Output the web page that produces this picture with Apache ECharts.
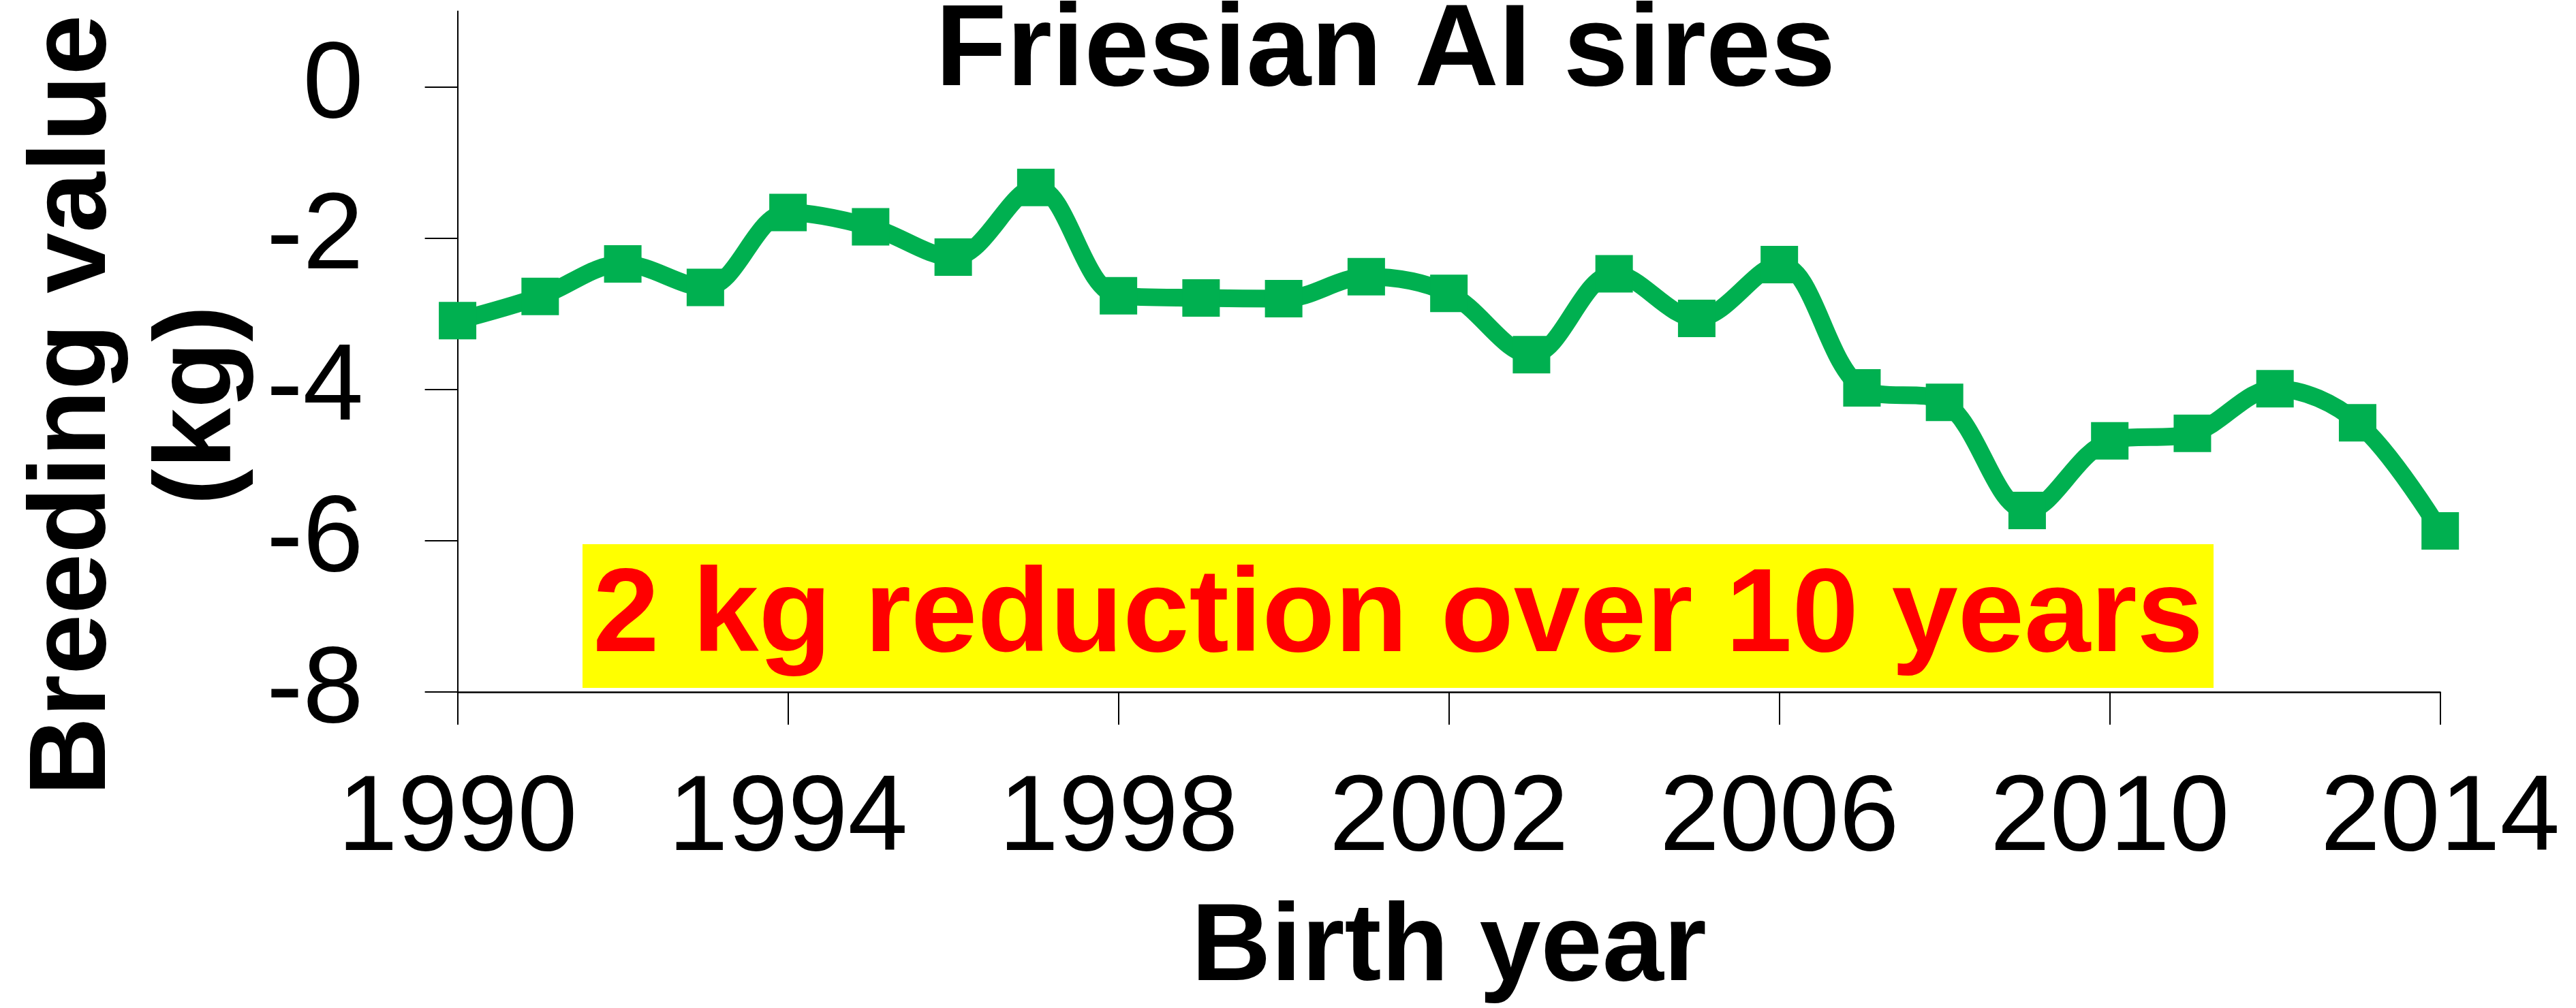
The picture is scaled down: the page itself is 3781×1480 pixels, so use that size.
<!DOCTYPE html>
<html>
<head>
<meta charset="utf-8">
<script src="https://cdn.jsdelivr.net/npm/echarts@6/dist/echarts.min.js"></script>
<style>
  html, body { margin: 0; padding: 0; background: #fff; }
  #chart { width: 3781px; height: 1480px; }
</style>
</head>
<body>
<div id="chart"></div>
<script>
// ---- data ----
var years = [1990, 1991, 1992, 1993, 1994, 1995, 1996, 1997, 1998, 1999, 2000, 2001, 2002,
             2003, 2004, 2005, 2006, 2007, 2008, 2009, 2010, 2011, 2012, 2013, 2014];
var breedingValues = [-3.09, -2.77, -2.34, -2.65, -1.66, -1.85, -2.25, -1.33, -2.76, -2.79, -2.80, -2.51, -2.73,
                      -3.54, -2.47, -3.06, -2.35, -3.98, -4.17, -5.60, -4.68, -4.58, -3.99, -4.44, -5.87];
var xTickValues = [1990, 1994, 1998, 2002, 2006, 2010, 2014];
var yTickValues = [-8, -6, -4, -2, 0];
var titleText = 'Friesian AI sires';
var xAxisTitle = 'Birth year';
var yAxisTitle = 'Breeding value\n(kg)';
var annotationText = '2 kg reduction over 10 years';

var FONT = '"Liberation Sans", Arial, Helvetica, sans-serif';
var seriesData = years.map(function (y, i) { return [y, breedingValues[i]]; });

var chart = echarts.init(document.getElementById('chart'), null, { renderer: 'canvas' });
chart.setOption({
  animation: false,
  backgroundColor: '#ffffff',
  title: {
    text: titleText,
    left: 1373,
    top: -8,
    padding: 0,
    textStyle: { fontFamily: FONT, fontWeight: 'bold', fontSize: 171, color: '#000' }
  },
  grid: { left: 671.6, right: 199.3, top: 16.6, bottom: 463.6, containLabel: false },
  xAxis: {
    type: 'value',
    min: 1990,
    max: 2014,
    name: xAxisTitle,
    nameLocation: 'middle',
    nameGap: 297,
    nameTextStyle: { fontFamily: FONT, fontWeight: 'bold', fontSize: 162, color: '#000' },
    axisLine: { show: true, onZero: false, lineStyle: { color: '#000', width: 2.5 } },
    axisTick: { show: true, inside: false, length: 48, customValues: xTickValues, lineStyle: { color: '#000', width: 2 } },
    axisLabel: {
      show: true, margin: 109, customValues: xTickValues,
      fontFamily: FONT, fontSize: 158, color: '#000',
      formatter: function (v) { return String(v); }
    },
    splitLine: { show: false }
  },
  yAxis: {
    type: 'value',
    min: -8,
    max: 1,
    axisLine: { show: true, onZero: false, lineStyle: { color: '#000', width: 2 } },
    axisTick: { show: true, inside: false, length: 48, customValues: yTickValues, lineStyle: { color: '#000', width: 2 } },
    axisLabel: {
      show: true, margin: 138, customValues: yTickValues,
      fontFamily: FONT, fontSize: 160, color: '#000',
      formatter: function (v) { return String(v); }
    },
    splitLine: { show: false }
  },
  graphic: [
    {
      type: 'text',
      x: 202, y: 595,
      rotation: Math.PI / 2,
      style: {
        text: yAxisTitle,
        fontFamily: FONT, fontWeight: 'bold', fontSize: 160,
        lineHeight: 184,
        fill: '#000',
        align: 'center', verticalAlign: 'middle'
      },
      z: 10
    },
    {
      type: 'rect',
      shape: { x: 855, y: 799, width: 2394, height: 211 },
      style: { fill: '#FFFF00' },
      z: 5
    },
    {
      type: 'text',
      x: 2052, y: 908,
      style: {
        text: annotationText,
        fontFamily: FONT, fontWeight: 'bold', fontSize: 175,
        fill: '#FF0000',
        align: 'center', verticalAlign: 'middle'
      },
      z: 6
    }
  ],
  series: [{
    type: 'line',
    data: seriesData,
    smooth: 0.35,
    symbol: 'rect',
    symbolSize: 55,
    showSymbol: true,
    clip: false,
    z: 20,
    lineStyle: { color: '#00B050', width: 26 },
    itemStyle: { color: '#00B050', borderWidth: 0 }
  }]
});
</script>
</body>
</html>
